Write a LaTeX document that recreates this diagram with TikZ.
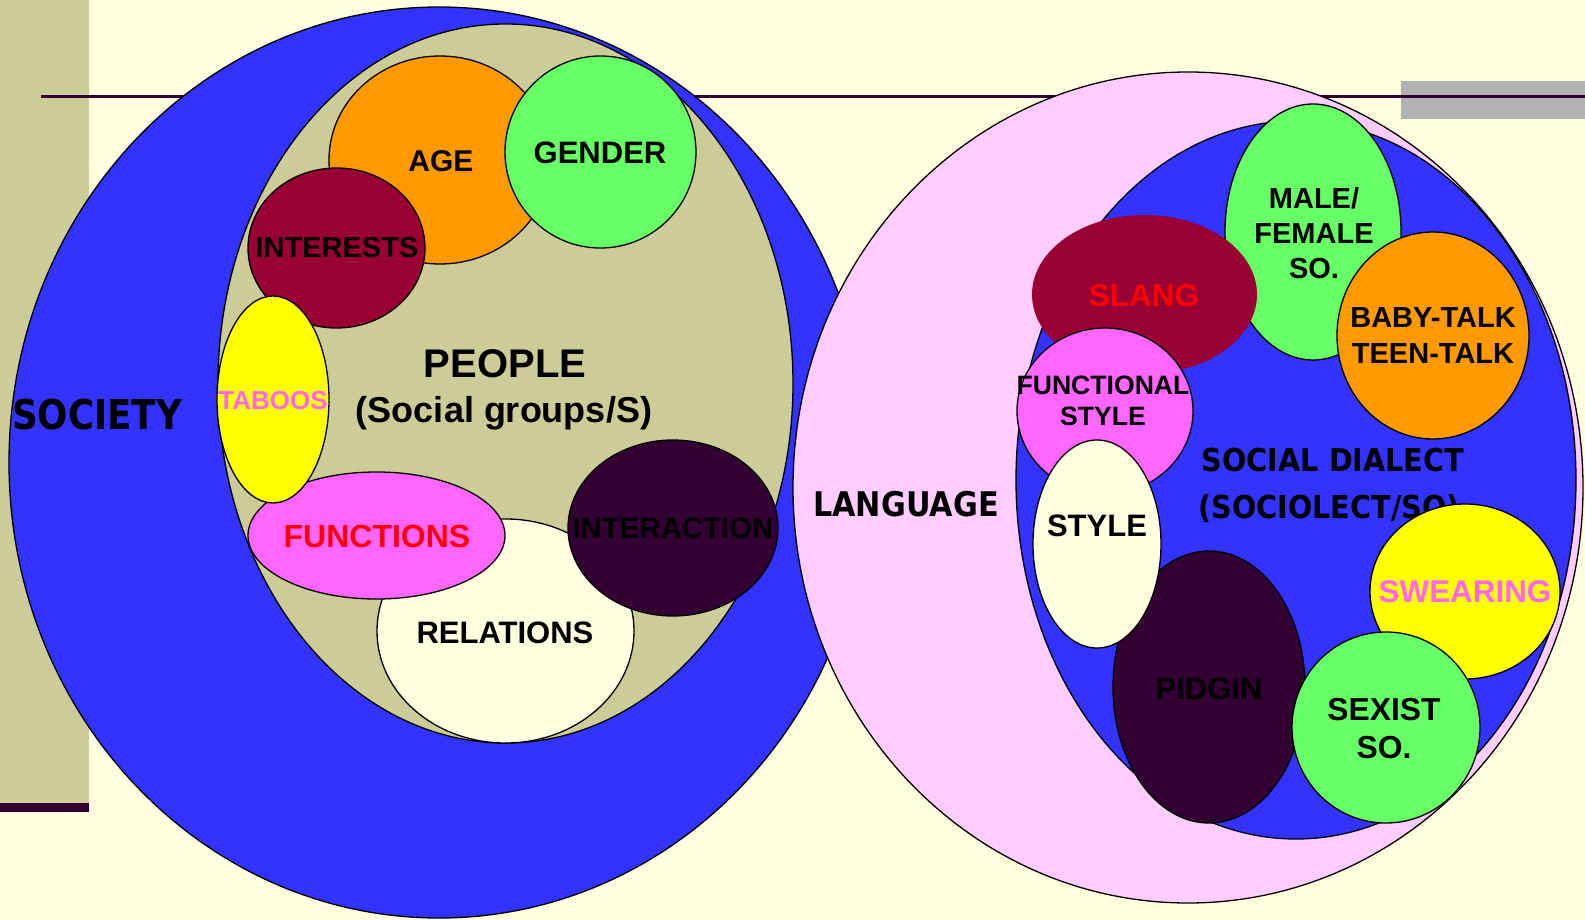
\documentclass[tikz,border=0pt]{standalone}
\usepackage{fontspec}
\setmainfont{Liberation Sans}
\newfontfamily\widefont{DejaVu Sans}

\definecolor{paper}{RGB}{255,255,224}
\definecolor{khaki}{RGB}{204,204,153}
\definecolor{royal}{RGB}{51,51,255}
\definecolor{blush}{RGB}{255,204,255}
\definecolor{amber}{RGB}{255,153,0}
\definecolor{lime}{RGB}{102,255,102}
\definecolor{wine}{RGB}{153,0,51}
\definecolor{lemon}{RGB}{255,255,0}
\definecolor{orchid}{RGB}{255,102,255}
\definecolor{plum}{RGB}{51,0,51}
\definecolor{slate}{RGB}{178,178,178}
\definecolor{scarlet}{RGB}{255,0,0}

\begin{document}
\begin{tikzpicture}[x=1pt,y=-1pt,
  blob/.style={draw=black,line width=1.3pt},
  lbl/.style={inner sep=0pt,align=center,font=\bfseries\fontsize{#1}{#1}\selectfont},
  lbl/.default=30,
  wlbl/.style={inner sep=0pt,align=center,font=\widefont\bfseries\fontsize{#1}{#1}\selectfont},
]
\useasboundingbox (0,0) rectangle (1585,920);

% page background, side bar and rule
\fill[paper] (0,0) rectangle (1585,920);
\fill[khaki] (0,0) rectangle (89,803);
\fill[plum] (0,803) rectangle (89,812);
\fill[slate] (1401,81) rectangle (1585,119);
\fill[plum] (41,95.5) rectangle (1585,98.5);

% ---------- society ----------
\filldraw[blob,fill=royal] (439,462.5) ellipse [x radius=430, y radius=455.5];
\filldraw[blob,fill=khaki] (505.5,383.5) ellipse [x radius=287.5, y radius=359.5];

\filldraw[blob,fill=paper] (505.5,631) ellipse [x radius=128.5, y radius=112];
\node[lbl=31] (relations) at (505,633) {RELATIONS};
\filldraw[blob,fill=orchid] (376.5,535.5) ellipse [x radius=128.5, y radius=63.5];
\node[lbl=32,text=scarlet] (functions) at (377,536) {FUNCTIONS};
\filldraw[blob,fill=plum] (673,528) ellipse [x radius=105, y radius=88];
\node[lbl=29.4] (interaction) at (673,528) {INTERACTION};
\filldraw[blob,fill=amber] (440,160) ellipse [x radius=111, y radius=104];
\node[lbl=30] (age) at (441,161) {AGE};
\filldraw[blob,fill=lime] (600.5,152) ellipse [x radius=95.5, y radius=96];
\node[lbl=31] (gender) at (600,153) {GENDER};
\filldraw[blob,fill=wine] (336.5,248) ellipse [x radius=88.5, y radius=80];
\node[lbl=29] (interests) at (337,248) {INTERESTS};
\filldraw[blob,fill=lemon] (273,399.5) ellipse [x radius=56, y radius=103.5];
\node[lbl=26,text=orchid] (taboos) at (273,401) {TABOOS};

\node[wlbl=41] (society) at (97,415) {\scalebox{0.87}[1]{SOCIETY}};
\node[lbl=40] (people) at (505,364) {PEOPLE};
\node[lbl=36] (groups) at (504,413) {(Social groups/S)};

% ---------- language ----------
\filldraw[blob,fill=blush] (1188,487.5) ellipse [x radius=395, y radius=415.5];
\filldraw[blob,fill=royal] (1296,480) ellipse [x radius=280, y radius=359];

\filldraw[blob,fill=lime] (1313,232) ellipse [x radius=88, y radius=128];
\node[inner sep=0pt,align=center,font=\bfseries\fontsize{29}{35}\selectfont] (malefemale) at (1314,233) {MALE/\\FEMALE\\SO.};
\filldraw[blob,fill=amber] (1433,335.5) ellipse [x radius=96, y radius=103.5];
\node[inner sep=0pt,align=center,font=\bfseries\fontsize{29}{36}\selectfont] (babytalk) at (1433,336) {BABY-TALK\\TEEN-TALK};
\fill[wine] (1144.5,294.5) ellipse [x radius=112.5, y radius=79.5];
\node[lbl=31.5,text=scarlet] (slang) at (1144,296) {SLANG};
\filldraw[blob,fill=orchid] (1105,411) ellipse [x radius=88, y radius=83];
\node[inner sep=0pt,align=center,font=\bfseries\fontsize{26.6}{31}\selectfont] (functional) at (1103,401) {FUNCTIONAL\\STYLE};
\filldraw[blob,fill=plum] (1209,687) ellipse [x radius=96, y radius=136];
\node[lbl=31] (pidgin) at (1209,689) {PIDGIN};
\filldraw[blob,fill=paper] (1097,544) ellipse [x radius=64, y radius=104];
\node[lbl=31] (style) at (1097,526) {STYLE};

\node[wlbl=34] (language) at (906,504) {\scalebox{0.89}[1]{LANGUAGE}};
\node[wlbl=31.5] (dialect) at (1333,460) {\scalebox{0.91}[1]{SOCIAL DIALECT}};
\node[wlbl=31.5] (sociolect) at (1329,509) {\scalebox{0.91}[1]{(SOCIOLECT/SO)}};

\filldraw[blob,fill=lemon] (1465,591.5) ellipse [x radius=95, y radius=87.5];
\node[lbl=31.4,text=orchid] (swearing) at (1465,592) {SWEARING};
\filldraw[blob,fill=lime] (1386,727.5) ellipse [x radius=94, y radius=95.5];
\node[inner sep=0pt,align=center,font=\bfseries\fontsize{31.8}{38}\selectfont] (sexist) at (1384,729) {SEXIST\\SO.};
\end{tikzpicture}
\end{document}
